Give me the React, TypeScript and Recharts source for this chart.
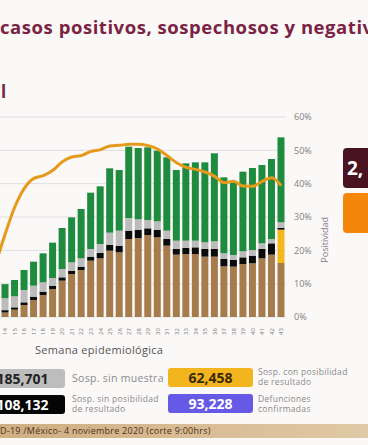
import { ComposedChart, Bar, Line, XAxis, YAxis, CartesianGrid } from 'recharts';

// epidemiological weeks (13 sits just off the left edge, like the cropped slide)
const semanas = [13, 14, 15, 16, 17, 18, 19, 20, 21, 22, 23, 24, 25, 26, 27, 28, 29, 30, 31, 32, 33, 34, 35, 36, 37, 38, 39, 40, 41, 42, 43];

const positivos = [1500, 2700, 4400, 7200, 10200, 13200, 16800, 21800, 25800, 28200, 33800, 35200, 39800, 38800, 46800, 47400, 49200, 47800, 42800, 37400, 37800, 37800, 36200, 36200, 30400, 30200, 31800, 32200, 35200, 37400, 32400];
const sospConPosibilidad = [0, 0, 0, 0, 0, 0, 0, 0, 0, 0, 0, 0, 0, 0, 0, 0, 0, 0, 0, 0, 0, 0, 0, 0, 0, 0, 0, 0, 0, 0, 20000];
const sospSinPosibilidad = [1000, 1400, 1400, 1600, 2000, 2000, 2000, 2000, 2000, 2000, 2400, 3200, 3400, 3800, 5000, 4800, 4000, 4400, 4000, 3400, 3600, 4000, 4600, 4600, 4400, 4000, 4000, 4600, 5600, 6800, 1000];
const sospSinMuestra = [7000, 7200, 6600, 7400, 6600, 5600, 4600, 5000, 5000, 5000, 4600, 5400, 7400, 9200, 7600, 6400, 5000, 5200, 5000, 5000, 4400, 4000, 4000, 4600, 3400, 3000, 3600, 3400, 3400, 2600, 3400];
const negativos = [7000, 8400, 9800, 12000, 14400, 17400, 21200, 24600, 27000, 29600, 33800, 34600, 38600, 36400, 42800, 42800, 43600, 42400, 44000, 42400, 46400, 47000, 48000, 52800, 45600, 43600, 47800, 49200, 47000, 48000, 51000];
const positividad = [16, 25, 33, 38.6, 41.6, 42.4, 44, 46.6, 48, 48.4, 49.7, 50.2, 51.3, 51.5, 51.8, 51.8, 51.4, 50.4, 48.4, 46.3, 44.9, 44.3, 43.5, 42.2, 40.3, 40.7, 39.3, 39.2, 40.7, 41.8, 39.4];

const pctTicks = [0, 10, 20, 30, 40, 50, 60];

const data = semanas.map((s, i) => ({
  semana: s,
  positivos: positivos[i],
  conPos: sospConPosibilidad[i],
  sinPos: sospSinPosibilidad[i],
  sinMuestra: sospSinMuestra[i],
  negativos: negativos[i],
  positividad: positividad[i],
}));

const FONT = '"Open Sans", sans-serif';

function WeekTick(props: any) {
  const { x, y, payload } = props;
  return (
    <text
      x={x}
      y={y + 3}
      transform={`rotate(-90 ${x} ${y + 3})`}
      textAnchor="end"
      dy="0.35em"
      fontSize={6}
      fill="#777"
      fontFamily={FONT}
    >
      {payload.value}
    </text>
  );
}

const box = (bg: string, color: string) => ({
  position: 'absolute' as const,
  width: 85,
  height: 19,
  background: bg,
  color,
  borderRadius: 3,
  fontWeight: 700,
  fontSize: 14,
  lineHeight: '19px',
  textAlign: 'center' as const,
  fontFamily: FONT,
});

const label = {
  position: 'absolute' as const,
  color: '#8a8a8a',
  fontFamily: FONT,
  lineHeight: '10px',
  whiteSpace: 'nowrap' as const,
};

export default function App() {
  return (
    <div style={{ position: 'relative', width: 368, height: 445, overflow: 'hidden', background: '#fbf8f8', fontFamily: FONT }}>
      <style>{'body{margin:0}'}</style>
      <div style={{ position: 'absolute', left: 0, top: 14, whiteSpace: 'nowrap', fontSize: 18.5, letterSpacing: 0.55, fontWeight: 700, color: '#7a2343' }}>
        casos positivos, sospechosos y negativos
      </div>
      <div style={{ position: 'absolute', left: 1, top: 80, fontSize: 17, fontWeight: 700, color: '#7a2343' }}>l</div>

      <div style={{ position: 'absolute', left: -8.8, top: 108 }}>
        <ComposedChart width={345} height={228} data={data} margin={{ top: 9, right: 0, bottom: 0, left: 0 }} barSize={7}>
          <CartesianGrid yAxisId="right" vertical={false} stroke="#dedede" />
          <XAxis dataKey="semana" tick={<WeekTick />} tickLine={false} axisLine={false} interval={0} height={19} />
          <YAxis yAxisId="left" hide domain={[0, 120000]} />
          <YAxis
            yAxisId="right"
            orientation="right"
            domain={[0, 60]}
            ticks={pctTicks}
            tickFormatter={(v) => `${v}%`}
            tickLine={false}
            axisLine={false}
            width={50}
            tick={{ fontSize: 9, fill: '#7e7e7e', fontFamily: FONT }}
            label={{ value: 'Positividad', angle: -90, position: 'insideRight', offset: 11, fontSize: 9, fill: '#7e7e7e', fontFamily: FONT }}
          />
          <Bar yAxisId="left" dataKey="positivos" stackId="a" fill="#a67c4c" isAnimationActive={false} />
          <Bar yAxisId="left" dataKey="conPos" stackId="a" fill="#f2b81e" isAnimationActive={false} />
          <Bar yAxisId="left" dataKey="sinPos" stackId="a" fill="#0c0c0c" isAnimationActive={false} />
          <Bar yAxisId="left" dataKey="sinMuestra" stackId="a" fill="#bcbcbc" isAnimationActive={false} />
          <Bar yAxisId="left" dataKey="negativos" stackId="a" fill="#1f8b3f" isAnimationActive={false} />
          <Line yAxisId="right" dataKey="positividad" type="monotone" stroke="#e69a1c" strokeWidth={3} dot={false} isAnimationActive={false} />
        </ComposedChart>
      </div>

      <div style={{ position: 'absolute', left: 343, top: 148, width: 40, height: 40, background: '#4a1321', borderRadius: 4, color: '#fff', fontWeight: 700, fontSize: 19, lineHeight: '40px', paddingLeft: 4 }}>2,</div>
      <div style={{ position: 'absolute', left: 343, top: 193, width: 40, height: 40, background: '#f4860a', borderRadius: 4 }} />

      <div style={{ position: 'absolute', left: 35, top: 342, fontSize: 11, letterSpacing: 0.3, color: '#555', whiteSpace: 'nowrap' }}>Semana epidemiológica</div>

      <div style={{ ...box('#bdbdbd', '#222'), left: -20, top: 369 }}>185,701</div>
      <div style={{ ...label, left: 72, top: 373, fontSize: 10.5, letterSpacing: 0.3 }}>Sosp. sin muestra</div>
      <div style={{ ...box('#f2b51e', '#3a2a08'), left: 168, top: 368 }}>62,458</div>
      <div style={{ ...label, left: 258, top: 367, fontSize: 8.5, letterSpacing: 0.3 }}>Sosp. con posibilidad<br />de resultado</div>

      <div style={{ ...box('#050505', '#fff'), left: -20, top: 395 }}>108,132</div>
      <div style={{ ...label, left: 72, top: 394, fontSize: 8.5, letterSpacing: 0.3 }}>Sosp. sin posibilidad<br />de resultado</div>
      <div style={{ ...box('#6559e6', '#fff'), left: 168, top: 394 }}>93,228</div>
      <div style={{ ...label, left: 258, top: 394, fontSize: 8.5, letterSpacing: 0.3 }}>Defunciones<br />confirmadas</div>

      <div style={{ position: 'absolute', left: 0, top: 424, width: 368, height: 14, background: 'linear-gradient(90deg, #cfae82, #e0c9a6)', fontSize: 9, letterSpacing: 0.25, color: '#4e3218', lineHeight: '14px', whiteSpace: 'nowrap' }}>
        D-19 /México- 4 noviembre 2020 (corte 9:00hrs)
      </div>
    </div>
  );
}
